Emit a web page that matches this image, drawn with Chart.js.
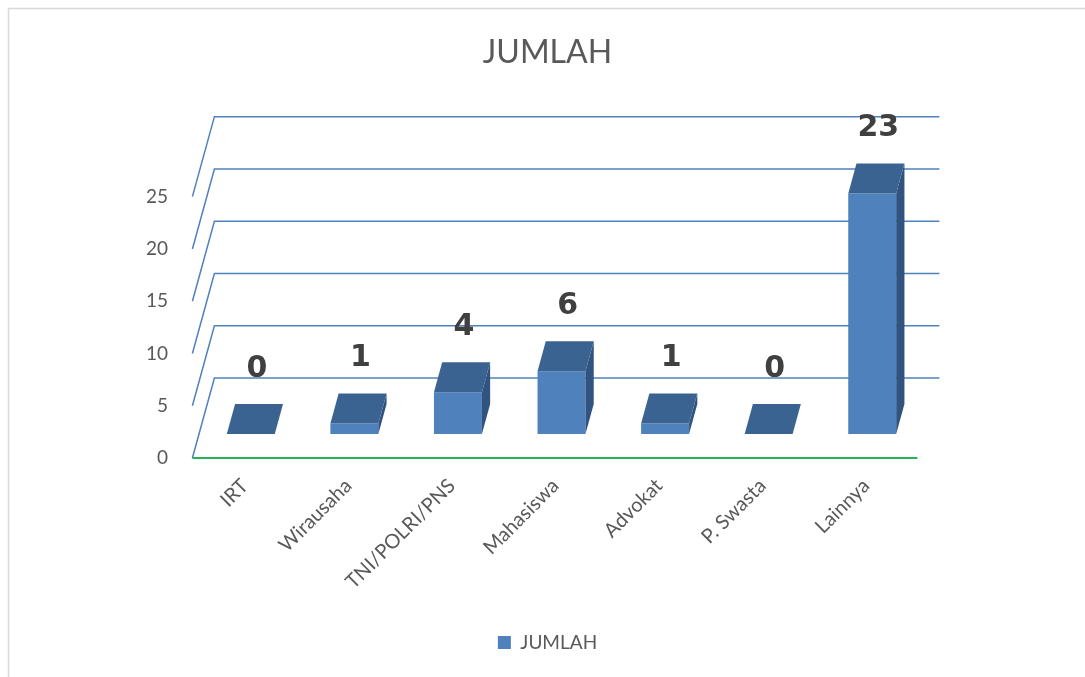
<!DOCTYPE html>
<html>
<head>
<meta charset="utf-8">
<script src="https://cdn.jsdelivr.net/npm/chart.js@4.4.0/dist/chart.umd.min.js"></script>
<style>
  html, body { margin: 0; padding: 0; background: #ffffff; }
  #wrap { width: 1085px; height: 677px; position: relative; }
</style>
</head>
<body>
<div id="wrap"><canvas id="c" width="1085" height="677"></canvas></div>
<script>
// ---- data ----
const chartTitle = 'JUMLAH';
const seriesName = 'JUMLAH';
const categories = ['IRT', 'Wirausaha', 'TNI/POLRI/PNS', 'Mahasiswa', 'Advokat', 'P. Swasta', 'Lainnya'];
const jumlah = [0, 1, 4, 6, 1, 0, 23];
const yTickValues = [0, 5, 10, 15, 20, 25];

// ---- 3D look (styles / geometry, not data) ----
const FONT = 'Lato';
const TEXT_COLOR = '#595959';
const FRONT_COLOR = '#4F81BD';
const TOP_COLOR = '#3B6391';
const SIDE_COLOR = '#30537F';
const GRID_COLOR = '#4F81BD';
const FLOOR_COLOR = '#22B455';
const FLOOR_DX = 22, FLOOR_DY = 80;      // front -> back wall offset
const BAR_FRONT = 0.3, BAR_BACK = 0.675; // bar depth position (fraction of floor)
const AREA_BOTTOM = 458;

const threeD = {
  id: 'threeD',
  beforeDraw(chart) {
    const ctx = chart.ctx;
    ctx.save();
    ctx.fillStyle = '#ffffff';
    ctx.fillRect(0, 0, chart.width, chart.height);
    ctx.strokeStyle = '#D9D9D9';
    ctx.lineWidth = 1.5;
    ctx.beginPath();
    ctx.moveTo(8.5, chart.height);
    ctx.lineTo(8.5, 8.5);
    ctx.lineTo(chart.width, 8.5);
    ctx.stroke();
    ctx.restore();
  },
  beforeDatasetsDraw(chart) {
    const { ctx, chartArea } = chart;
    const y = chart.scales.y;
    const fl = chartArea.left - BAR_FRONT * FLOOR_DX;
    const fr = chartArea.right - BAR_FRONT * FLOOR_DX;
    ctx.save();
    ctx.strokeStyle = GRID_COLOR;
    ctx.lineWidth = 1.5;
    yTickValues.forEach(v => {
      const py = y.getPixelForValue(v);
      ctx.beginPath();
      ctx.moveTo(fl, py);
      ctx.lineTo(fl + FLOOR_DX, py - FLOOR_DY);
      ctx.lineTo(fr + FLOOR_DX, py - FLOOR_DY);
      ctx.stroke();
    });
    const p0 = y.getPixelForValue(0);
    ctx.strokeStyle = FLOOR_COLOR;
    ctx.lineWidth = 2;
    ctx.beginPath();
    ctx.moveTo(fl, p0);
    ctx.lineTo(fr, p0);
    ctx.stroke();
    ctx.restore();
  },
  afterDatasetsDraw(chart) {
    const ctx = chart.ctx;
    const meta = chart.getDatasetMeta(0);
    const dx = (BAR_BACK - BAR_FRONT) * FLOOR_DX;
    const dy = (BAR_BACK - BAR_FRONT) * FLOOR_DY;
    ctx.save();
    meta.data.forEach((bar, i) => {
      const { x, y, base, width } = bar.getProps(['x', 'y', 'base', 'width'], true);
      const l = x - width / 2, r = x + width / 2;
      // side face
      if (base - y > 0.5) {
        ctx.fillStyle = SIDE_COLOR;
        ctx.beginPath();
        ctx.moveTo(r, y);
        ctx.lineTo(r + dx, y - dy);
        ctx.lineTo(r + dx, base - dy);
        ctx.lineTo(r, base);
        ctx.closePath();
        ctx.fill();
      }
      // top face
      ctx.fillStyle = TOP_COLOR;
      ctx.beginPath();
      ctx.moveTo(l, y);
      ctx.lineTo(r, y);
      ctx.lineTo(r + dx, y - dy);
      ctx.lineTo(l + dx, y - dy);
      ctx.closePath();
      ctx.fill();
      // value label
      ctx.fillStyle = '#404040';
      ctx.font = 'bold 30px "DejaVu Sans", sans-serif';
      ctx.textAlign = 'center';
      ctx.textBaseline = 'middle';
      ctx.fillText(String(jumlah[i]), x + dx / 2 + 2, y - dy - 35);
    });
    ctx.restore();
  }
};

Chart.defaults.font.family = FONT;
Chart.defaults.color = TEXT_COLOR;

new Chart(document.getElementById('c'), {
  type: 'bar',
  data: {
    labels: categories,
    datasets: [{
      label: seriesName,
      data: jumlah,
      yAxisID: 'yb',
      backgroundColor: FRONT_COLOR,
      borderWidth: 0,
      barPercentage: 0.463,
      categoryPercentage: 1.0,
      clip: false
    }]
  },
  options: {
    responsive: false,
    devicePixelRatio: 1,
    animation: false,
    layout: { padding: { left: 10, right: 0, top: 0, bottom: 15 } },
    plugins: {
      title: {
        display: true,
        text: chartTitle,
        color: TEXT_COLOR,
        font: { family: FONT, size: 32, weight: 'normal' },
        padding: { top: 33, bottom: 73 }
      },
      legend: {
        display: true,
        position: 'bottom',
        labels: {
          boxWidth: 13,
          boxHeight: 13,
          color: TEXT_COLOR,
          font: { family: FONT, size: 19 },
          padding: 10
        }
      },
      tooltip: { enabled: false }
    },
    scales: {
      x: {
        grid: { display: false },
        border: { display: false },
        ticks: {
          maxRotation: 45,
          minRotation: 45,
          autoSkip: false,
          color: TEXT_COLOR,
          font: { family: FONT, size: 20 },
          padding: 8,
          labelOffset: -6
        },
        afterFit(scale) {
          scale.height = scale.chart.height - AREA_BOTTOM - scale.chart.legend.height - 15;
        }
      },
      y: {
        position: 'left',
        min: 0,
        max: 30,
        grid: { display: false, drawTicks: false },
        border: { display: false },
        ticks: {
          color: TEXT_COLOR,
          font: { family: FONT, size: 19 },
          padding: 31
        },
        afterBuildTicks(scale) {
          scale.ticks = yTickValues.map(v => ({ value: v }));
        },
        afterFit(scale) {
          scale.width = 189;
        }
      },
      yr: {
        position: 'right',
        display: true,
        grid: { display: false, drawTicks: false },
        border: { display: false },
        ticks: { display: false },
        afterFit(scale) {
          scale.width = 161;
        }
      },
      yb: {
        display: false,
        min: -2.3,
        max: 27.7
      }
    }
  },
  plugins: [threeD]
});
</script>
</body>
</html>
